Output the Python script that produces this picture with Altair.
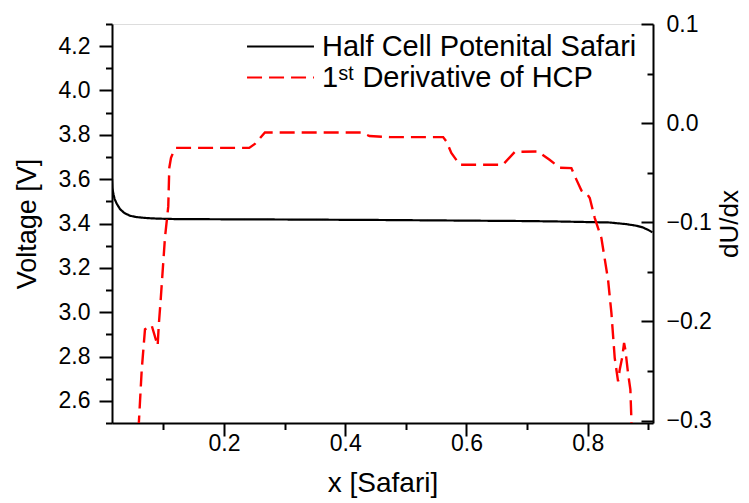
import altair as alt
import pandas as pd

# ---- data ----
x_hcp = [0.0154, 0.0160, 0.0180, 0.0198, 0.0231, 0.0286, 0.0360, 0.0450, 0.0560, 0.0700,
         0.0900, 0.1200, 0.2000, 0.3000, 0.4500, 0.6000, 0.7000, 0.7540, 0.8360, 0.8640,
         0.8800, 0.8910, 0.8990, 0.9066]
v_hcp = [3.600, 3.560, 3.530, 3.510, 3.490, 3.465, 3.447, 3.435, 3.429, 3.425,
         3.422, 3.420, 3.419, 3.418, 3.416, 3.413, 3.411, 3.409, 3.4045, 3.397,
         3.390, 3.382, 3.372, 3.360]

x_der = [0.0590, 0.0644, 0.0698, 0.0808, 0.0907, 0.0924, 0.0957, 0.1027, 0.1082, 0.1099,
         0.1127, 0.1180, 0.1210, 0.2417, 0.2510, 0.2676, 0.4270, 0.4400, 0.4736, 0.5615,
         0.5670, 0.5750, 0.5890, 0.6600, 0.6797, 0.7180, 0.7370, 0.7540, 0.7730, 0.7813,
         0.7896, 0.7980, 0.8033, 0.8116, 0.8225, 0.8335, 0.8390, 0.8445, 0.8500, 0.8527,
         0.8566, 0.8599, 0.8620, 0.8664, 0.8703, 0.8720, 0.8725]
v_der = [-0.310, -0.249, -0.208, -0.204, -0.2245, -0.205, -0.178, -0.116, -0.084, -0.045,
         -0.035, -0.027, -0.025, -0.025, -0.021, -0.0095, -0.0095, -0.013, -0.0141, -0.0141,
         -0.0185, -0.030, -0.042, -0.042, -0.029, -0.0286, -0.037, -0.045, -0.0454, -0.057,
         -0.068, -0.0706, -0.0756, -0.0958, -0.116, -0.158, -0.1915, -0.237, -0.2605, -0.2487,
         -0.237, -0.2218, -0.2285, -0.252, -0.2688, -0.300, -0.310]

series_names = ["Half Cell Potenital Safari", "1\u02e2\u1d57 Derivative of HCP"]

x_major = [0.2, 0.4, 0.6, 0.8]
x_minor = [0.1, 0.3, 0.5, 0.7, 0.9]
left_major = [2.6, 2.8, 3.0, 3.2, 3.4, 3.6, 3.8, 4.0, 4.2]
left_minor = [2.5, 2.7, 2.9, 3.1, 3.3, 3.5, 3.7, 3.9, 4.1, 4.3]
right_major = [-0.3, -0.2, -0.1, 0.0, 0.1]
right_minor = [-0.25, -0.15, -0.05, 0.05]

df_hcp = pd.DataFrame({"x": x_hcp, "v": v_hcp, "series": series_names[0]})
df_der = pd.DataFrame({"x": x_der, "v": v_der, "series": series_names[1]})

FONT = "Liberation Sans"
W, H = 541, 399
X_DOM = [0.0154, 0.9076]
L_DOM = [2.5, 4.3]
R_DOM = [-0.3025, 0.1]

label_style = dict(labelFont=FONT, labelFontSize=23, labelColor="black")
title_style = dict(titleFont=FONT, titleFontWeight="normal", titleColor="black")


def xs(axis):
    return alt.X("x:Q", scale=alt.Scale(domain=X_DOM, nice=False, zero=False), axis=axis)


def ys(dom, axis):
    return alt.Y("v:Q", scale=alt.Scale(domain=dom, nice=False, zero=False), axis=axis)


def tick_axis(orient, values, size):
    return alt.Axis(orient=orient, values=values, title=None, labels=False, domain=False,
                    grid=False, ticks=True, tickSize=size, tickWidth=2, tickColor="black",
                    zindex=2)


legend_cfg = dict(
    title=None, orient="none", legendX=154, legendY=8,
    labelFont=FONT, labelFontSize=29, labelColor="black", labelLimit=0,
    symbolType="M-8,0H8", symbolSize=70, symbolStrokeWidth=2.2,
    labelOffset=27, rowPadding=1,
)
color_enc = alt.Color("series:N", scale=alt.Scale(domain=series_names, range=["black", "#ff0000"]),
                      legend=alt.Legend(**legend_cfg))
dash_enc = alt.StrokeDash("series:N", scale=alt.Scale(domain=series_names, range=[[1, 0], [15, 7]]),
                          legend=alt.Legend(**legend_cfg))

# main lines with label axes
hcp = alt.Chart(df_hcp).mark_line(strokeWidth=2.2, clip=True).encode(
    x=xs(alt.Axis(title="x [Safari]", orient="bottom", values=x_major, grid=False, ticks=False,
                  format=".1f", domainColor="black", domainWidth=2, labelPadding=9,
                  titleFontSize=28, titlePadding=14, **label_style, **title_style)),
    y=ys(L_DOM, alt.Axis(title="Voltage [V]", orient="left", values=left_major, grid=False,
                         ticks=False, format=".1f", domainColor="black", domainWidth=2,
                         labelPadding=22, titleFontSize=27, titlePadding=17,
                         **label_style, **title_style)),
    color=color_enc, strokeDash=dash_enc,
)

der = alt.Chart(df_der).mark_line(strokeWidth=2.4, clip=True).encode(
    x=xs(None),
    y=ys(R_DOM, alt.Axis(title="dU/dx", orient="right", values=right_major, grid=False,
                         ticks=False, format=".1f", domainColor="black", domainWidth=2,
                         labelPadding=13, titleAngle=270, titleBaseline="top",
                         titleFontSize=26, titlePadding=5, **label_style, **title_style)),
    color=color_enc, strokeDash=dash_enc,
)

# tick-only axes (major / minor, outward on left & bottom, inward on right)
t_major = alt.Chart(df_hcp).mark_line(opacity=0, clip=True).encode(
    x=xs(tick_axis("bottom", x_major, 13)),
    y=ys(L_DOM, tick_axis("left", left_major, 13)),
)
t_minor = alt.Chart(df_hcp).mark_line(opacity=0, clip=True).encode(
    x=xs(tick_axis("bottom", x_minor, 6.5)),
    y=ys(L_DOM, tick_axis("left", left_minor, 6.5)),
)
r_major = alt.Chart(df_der).mark_line(opacity=0, clip=True).encode(
    x=xs(None),
    y=ys(R_DOM, tick_axis("right", right_major, alt.ExprRef("-12"))),
)
r_minor = alt.Chart(df_der).mark_line(opacity=0, clip=True).encode(
    x=xs(None),
    y=ys(R_DOM, tick_axis("right", right_minor, alt.ExprRef("-6"))),
)

chart = alt.layer(hcp, der, t_major, t_minor, r_major, r_minor).resolve_scale(
    x="independent", y="independent"
).properties(
    width=W, height=H,
    autosize=alt.AutoSizeParams(type="none"),
    padding={"left": 112, "top": 24, "right": 96, "bottom": 80},
).configure_view(stroke="black", strokeWidth=2).configure(background="white")

chart.save("out.html", embed_options={"renderer": "svg", "actions": False})
